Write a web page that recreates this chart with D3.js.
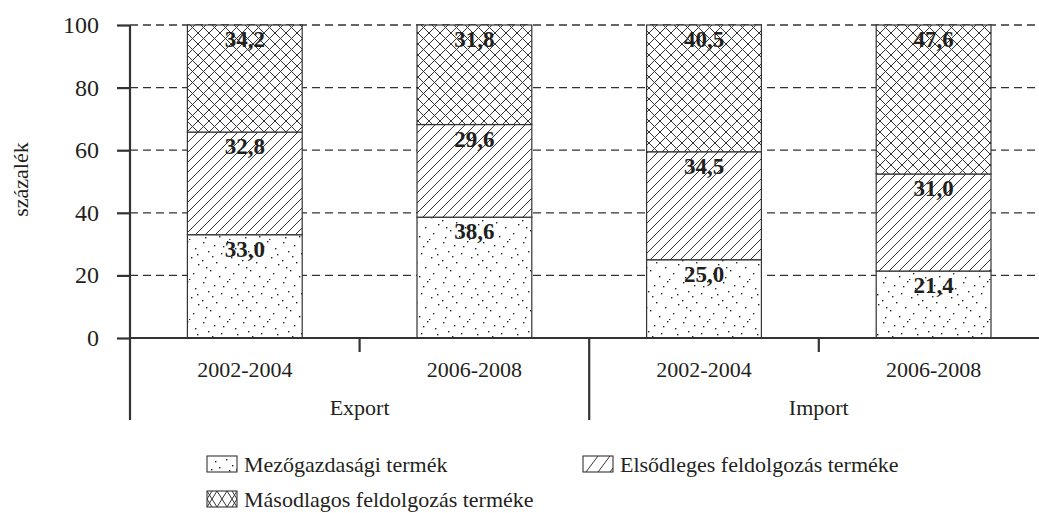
<!DOCTYPE html>
<html>
    <head>
        <meta charset="utf-8">
        <style>
            html, body {
                margin: 0px;
                padding: 0px;
                background-color: #fff;
            }

            svg text {
                font-family: "Liberation Serif", "DejaVu Serif", serif;
                fill: #231f20;
            }

            .tickLabel { font-size: 24px; }
            .axisTitle { font-size: 22px; }
            .catLabel { font-size: 22px; }
            .groupLabel { font-size: 22px; }
            .valueLabel { font-size: 23px; font-weight: bold; }
            .legendLabel { font-size: 22px; }
        </style>
        <script src="https://cdn.jsdelivr.net/npm/d3@7"></script>
    </head>
    <body>
        <div id="main"></div>

        <script>
            var groups = ["Export", "Import"];
            var periods = ["2002-2004", "2006-2008", "2002-2004", "2006-2008"];
            var barGroup = ["Export", "Export", "Import", "Import"];
            var seriesNames = ["Mezőgazdasági termék", "Elsődleges feldolgozás terméke", "Másodlagos feldolgozás terméke"];
            var mezogazdasagi = [33.0, 38.6, 25.0, 21.4];
            var elsodleges = [32.8, 29.6, 34.5, 31.0];
            var masodlagos = [34.2, 31.8, 40.5, 47.6];
            var yTicks = [0, 20, 40, 60, 80, 100];

            var width = 1039;
            var height = 513;
            var padLeft = 130;
            var bandW = 229.6;
            var padTop = 25;
            var padBottom = 338;
            var ink = "#333";

            function defs(svg) {
                var d = svg.append("defs");

                var dots = d.append("pattern")
                    .attr("id", "dots")
                    .attr("patternUnits", "userSpaceOnUse")
                    .attr("width", 40).attr("height", 40);
                var pts = [[3,2],[14,5],[27,1],[35,8],[8,11],[21,13],[31,17],[2,20],[16,22],[38,24],
                           [25,27],[10,30],[33,33],[5,37],[19,36],[29,39],[12,16],[37,14],[23,6],[6,27]];
                pts.forEach(function(p) {
                    dots.append("rect").attr("x", p[0]).attr("y", p[1])
                        .attr("width", 1.4).attr("height", 1.4).attr("fill", "#222");
                });

                var hatch = d.append("pattern")
                    .attr("id", "hatch")
                    .attr("patternUnits", "userSpaceOnUse")
                    .attr("width", 10).attr("height", 10);
                hatch.append("path")
                    .attr("d", "M0,10 L10,0 M-5,5 L5,-5 M5,15 L15,5")
                    .attr("stroke", ink).attr("stroke-width", 1);

                var cross = d.append("pattern")
                    .attr("id", "cross")
                    .attr("patternUnits", "userSpaceOnUse")
                    .attr("width", 11).attr("height", 11);
                cross.append("path")
                    .attr("d", "M0,11 L11,0 M-5.5,5.5 L5.5,-5.5 M5.5,16.5 L16.5,5.5 M0,0 L11,11 M-5.5,5.5 L5.5,16.5 M5.5,-5.5 L16.5,5.5")
                    .attr("stroke", ink).attr("stroke-width", 1);

                // legend swatches use a coarser version of the same fills
                var lDots = d.append("pattern")
                    .attr("id", "ldots")
                    .attr("patternUnits", "objectBoundingBox")
                    .attr("width", 1).attr("height", 1);
                [[8,5],[19,3],[25,9],[12,11],[29,13],[4,13],[22,14]].forEach(function(p) {
                    lDots.append("rect").attr("x", p[0]).attr("y", p[1])
                        .attr("width", 1.4).attr("height", 1.4).attr("fill", "#222");
                });

                var lHatch = d.append("pattern")
                    .attr("id", "lhatch")
                    .attr("patternUnits", "objectBoundingBox")
                    .attr("width", 1).attr("height", 1);
                lHatch.append("path")
                    .attr("d", "M3,16 L15,0 M15,16 L27,0 M27,16 L30,12")
                    .attr("stroke", ink).attr("stroke-width", 1);

                var lCross = d.append("pattern")
                    .attr("id", "lcross")
                    .attr("patternUnits", "objectBoundingBox")
                    .attr("width", 1).attr("height", 1);
                lCross.append("path")
                    .attr("d", "M0,0 L10,16 L20,0 L30,16 M0,16 L10,0 L20,16 L30,0 M0,8 L5,0 M0,8 L5,16 M30,8 L25,0 M30,8 L25,16")
                    .attr("fill", "none")
                    .attr("stroke", ink).attr("stroke-width", 1);
            }

            function chart(svg) {
                var x = d3.scaleBand()
                    .domain(d3.range(periods.length))
                    .range([padLeft, padLeft + bandW * periods.length])
                    .paddingInner(0.5)
                    .paddingOuter(0.25);

                var y = d3.scaleLinear()
                    .domain([0, 100])
                    .range([padBottom, padTop]);

                // dashed gridlines
                svg.append("g")
                    .selectAll("line")
                    .data(yTicks.filter(function(t) { return t > 0; }))
                    .enter()
                    .append("line")
                    .attr("x1", padLeft).attr("x2", width)
                    .attr("y1", function(d) { return y(d); })
                    .attr("y2", function(d) { return y(d); })
                    .attr("stroke", ink)
                    .attr("stroke-width", 1.3)
                    .attr("stroke-dasharray", "8,5");

                var series = [mezogazdasagi, elsodleges, masodlagos];
                var fills = ["url(#dots)", "url(#hatch)", "url(#cross)"];
                var legendFills = ["url(#ldots)", "url(#lhatch)", "url(#lcross)"];

                periods.forEach(function(p, i) {
                    var base = 0;
                    series.forEach(function(s, k) {
                        var y0 = base, y1 = base + s[i];
                        base = y1;
                        svg.append("rect")
                            .attr("x", x(i))
                            .attr("y", y(y1))
                            .attr("width", x.bandwidth())
                            .attr("height", y(y0) - y(y1))
                            .attr("fill", "#fff");
                        svg.append("rect")
                            .attr("x", x(i))
                            .attr("y", y(y1))
                            .attr("width", x.bandwidth())
                            .attr("height", y(y0) - y(y1))
                            .attr("fill", fills[k])
                            .attr("stroke", ink)
                            .attr("stroke-width", 1.2);
                        svg.append("text")
                            .attr("class", "valueLabel")
                            .attr("x", x(i) + x.bandwidth() / 2)
                            .attr("y", y(y1) + 22)
                            .attr("text-anchor", "middle")
                            .text(d3.format(".1f")(s[i]).replace(".", ","));
                    });
                });

                // y axis
                var yAxis = svg.append("g")
                    .attr("transform", "translate(" + padLeft + ",0)")
                    .call(d3.axisLeft(y).tickValues(yTicks).tickSize(13).tickFormat(""));
                yAxis.select(".domain").remove();
                yAxis.selectAll("line").attr("stroke", ink).attr("stroke-width", 2.2);

                svg.append("line")
                    .attr("x1", padLeft).attr("x2", padLeft)
                    .attr("y1", padTop).attr("y2", 420)
                    .attr("stroke", ink).attr("stroke-width", 2.2);

                svg.append("g")
                    .selectAll("text")
                    .data(yTicks)
                    .enter()
                    .append("text")
                    .attr("class", "tickLabel")
                    .attr("x", 99)
                    .attr("y", function(d) { return y(d) + 8; })
                    .attr("text-anchor", "end")
                    .text(function(d) { return d; });

                svg.append("text")
                    .attr("class", "axisTitle")
                    .attr("transform", "translate(28," + ((padTop + padBottom) / 2 - 2) + ") rotate(-90)")
                    .attr("text-anchor", "middle")
                    .text("százalék");

                // x axis
                svg.append("line")
                    .attr("x1", padLeft).attr("x2", width)
                    .attr("y1", padBottom).attr("y2", padBottom)
                    .attr("stroke", ink).attr("stroke-width", 2.2);

                var step = x.step();
                periods.forEach(function(p, i) {
                    var cx = x(i) + x.bandwidth() / 2;
                    svg.append("text")
                        .attr("class", "catLabel")
                        .attr("x", cx)
                        .attr("y", 377)
                        .attr("text-anchor", "middle")
                        .text(p);
                    if (i < periods.length - 1) {
                        var bx = cx + step / 2;
                        var isGroupEdge = barGroup[i] !== barGroup[i + 1];
                        svg.append("line")
                            .attr("x1", bx).attr("x2", bx)
                            .attr("y1", padBottom).attr("y2", isGroupEdge ? 420 : 352)
                            .attr("stroke", ink).attr("stroke-width", 2.2);
                    }
                });

                groups.forEach(function(g) {
                    var idx = d3.range(periods.length).filter(function(i) { return barGroup[i] === g; });
                    var gx = (x(idx[0]) + x(idx[idx.length - 1]) + x.bandwidth()) / 2;
                    svg.append("text")
                        .attr("class", "groupLabel")
                        .attr("x", gx)
                        .attr("y", 415)
                        .attr("text-anchor", "middle")
                        .text(g);
                });

                // legend
                var legendPos = [[207, 456], [583, 456], [207, 491]];
                seriesNames.forEach(function(n, k) {
                    var lg = svg.append("g")
                        .attr("transform", "translate(" + legendPos[k][0] + "," + legendPos[k][1] + ")");
                    lg.append("rect")
                        .attr("width", 30).attr("height", 16)
                        .attr("fill", "#fff");
                    lg.append("rect")
                        .attr("width", 30).attr("height", 16)
                        .attr("fill", legendFills[k])
                        .attr("stroke", ink).attr("stroke-width", 1.1);
                    lg.append("text")
                        .attr("class", "legendLabel")
                        .attr("x", 37)
                        .attr("y", 16)
                        .text(n);
                });
            }

            function main() {
                var svg = d3.select("#main")
                    .append("svg")
                    .attr("width", width)
                    .attr("height", height);
                defs(svg);
                chart(svg);
            }

            main();
        </script>
    </body>
</html>
